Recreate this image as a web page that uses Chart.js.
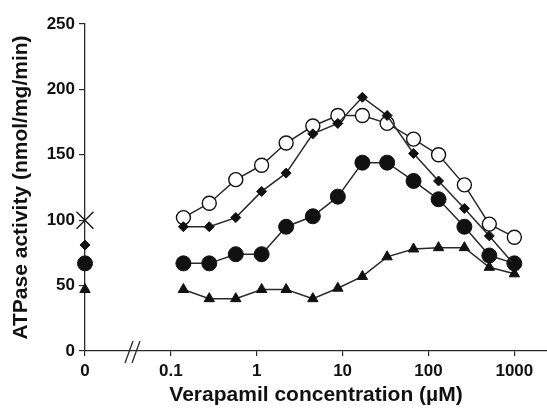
<!DOCTYPE html>
<html>
<head>
<meta charset="utf-8">
<script src="https://cdn.jsdelivr.net/npm/chart.js@4/dist/chart.umd.min.js"></script>
<style>
  html, body { margin: 0; padding: 0; background: #fff; }
  #wrap { width: 547px; height: 408px; }
</style>
</head>
<body>
<div id="wrap"><canvas id="atpase"></canvas></div>
<script>
// verapamil concentrations (µM)
let conc = [0.14, 0.28, 0.57, 1.14, 2.2, 4.5, 8.8, 17, 33, 67, 131, 262, 511, 1000];

// ATPase activity (nmol/mg/min)
let openCircle = [102, 113, 131, 142, 159, 172, 180, 180, 174, 162, 150, 127, 97, 87];
let diamond    = [95, 95, 102, 122, 136, 166, 174, 194, 180, 151, 130, 109, 88, 66];
let filledDot  = [67, 67, 74, 74, 95, 103, 118, 144, 144, 130, 116, 95, 73, 67];
let triangle   = [47, 40, 40, 47, 47, 40, 48, 57, 72, 78, 79, 79, 64, 59];

// no-drug controls, drawn at the "0" position left of the axis break
let zeroPos = 0.01;
let zeroValues = [100, 81, 67, 47];
let zeroStyles = ["crossRot", "rectRot", "circle", "triangle"];

let xTicks = [0.01, 0.1, 1, 10, 100, 1000];
let xTickLabels = ["0", "0.1", "1", "10", "100", "1000"];

let ink = "#111";
let lineInk = "#2a2a2a";
let fontFamily = "'Liberation Sans', Arial, sans-serif";

function pts(values) {
  return values.map((v, i) => ({ x: conc[i], y: v }));
}

let breakMarks = {
  id: "breakMarks",
  afterDraw(chart) {
    let c = chart.ctx;
    let y = chart.scales.y.getPixelForValue(0);
    c.save();
    c.strokeStyle = lineInk;
    c.lineWidth = 1.3;
    [125, 132].forEach(function(x) {
      c.beginPath();
      c.moveTo(x, y + 12);
      c.lineTo(x + 8, y - 10);
      c.stroke();
    });
    c.restore();
  }
};

let ctx = document.getElementById("atpase");
let atpaseChart = new Chart(ctx,
{
  type: "scatter",
  data: {
    datasets: [
      {
        label: "diamond",
        data: pts(diamond),
        showLine: true,
        borderColor: lineInk,
        borderWidth: 1.5,
        pointStyle: "rectRot",
        pointRadius: 5,
        pointBackgroundColor: ink,
        pointBorderColor: ink,
        pointBorderWidth: 1,
        order: 1
      },
      {
        label: "open circle",
        data: pts(openCircle),
        showLine: true,
        borderColor: lineInk,
        borderWidth: 1.5,
        pointStyle: "circle",
        pointRadius: 7,
        pointBackgroundColor: "#fff",
        pointBorderColor: ink,
        pointBorderWidth: 1.4,
        order: 2
      },
      {
        label: "filled circle",
        data: pts(filledDot),
        showLine: true,
        borderColor: lineInk,
        borderWidth: 1.5,
        pointStyle: "circle",
        pointRadius: 7.5,
        pointBackgroundColor: ink,
        pointBorderColor: ink,
        pointBorderWidth: 1,
        order: 3
      },
      {
        label: "triangle",
        data: pts(triangle),
        showLine: true,
        borderColor: lineInk,
        borderWidth: 1.5,
        pointStyle: "triangle",
        pointRadius: 6,
        pointBackgroundColor: ink,
        pointBorderColor: ink,
        pointBorderWidth: 1,
        order: 4
      },
      {
        label: "control",
        data: zeroValues.map(v => ({ x: zeroPos, y: v })),
        showLine: false,
        clip: false,
        pointStyle: zeroStyles,
        pointRadius: [12, 5, 7.5, 6],
        pointBackgroundColor: ink,
        pointBorderColor: ink,
        pointBorderWidth: [1.3, 1, 1, 1],
        order: 5
      }
    ]
  },
  options: {
    responsive: true,
    maintainAspectRatio: false,
    animation: false,
    layout: { autoPadding: false, padding: { top: 24, right: 0, bottom: 0, left: 0 } },
    plugins: { legend: { display: false }, tooltip: { enabled: false } },
    scales: {
      x: {
        type: "logarithmic",
        min: 0.01,
        max: 2400,
        afterBuildTicks: function(scale) {
          scale.ticks = xTicks.map(v => ({ value: v }));
        },
        afterFit: function(scale) { scale.height = 57; },
        ticks: {
          color: ink,
          font: { family: fontFamily, size: 17, weight: "bold" },
          padding: 5,
          maxRotation: 0,
          autoSkip: false,
          callback: function(value) {
            let i = xTicks.indexOf(value);
            return i >= 0 ? xTickLabels[i] : "";
          }
        },
        grid: { display: true, drawOnChartArea: false, drawTicks: true, tickLength: 5, color: lineInk, lineWidth: 1.2 },
        border: { display: true, color: lineInk, width: 1.3 },
        title: {
          display: true,
          text: "Verapamil concentration (µM)",
          color: ink,
          font: { family: fontFamily, size: 21, weight: "bold" },
          padding: { top: 0, bottom: 0 }
        }
      },
      y: {
        min: 0,
        max: 250,
        afterFit: function(scale) { scale.width = 85; },
        ticks: {
          stepSize: 50,
          color: ink,
          font: { family: fontFamily, size: 17, weight: "bold" },
          padding: 4
        },
        grid: { display: true, drawOnChartArea: false, drawTicks: true, tickLength: 6, color: lineInk, lineWidth: 1.2 },
        border: { display: true, color: lineInk, width: 1.3 },
        title: {
          display: true,
          text: "ATPase activity (nmol/mg/min)",
          color: ink,
          font: { family: fontFamily, size: 21, weight: "bold" },
          padding: { top: 9, bottom: 0 }
        }
      }
    }
  },
  plugins: [breakMarks]
});
</script>
</body>
</html>
